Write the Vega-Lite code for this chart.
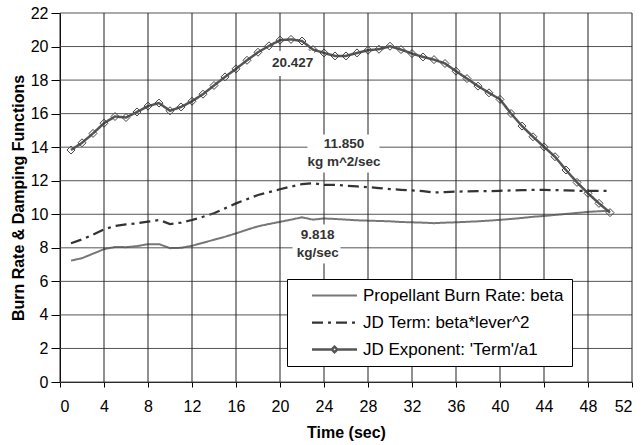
{
  "$schema": "https://vega.github.io/schema/vega-lite/v6.json",
  "width": 572,
  "height": 369,
  "autosize": {"type": "none"},
  "padding": {"left": 60, "top": 13, "right": 10, "bottom": 63},
  "background": "white",
  "config": {
    "view": {"stroke": null},
    "font": "Liberation Sans",
    "axis": {"labelFont": "Liberation Sans", "titleFont": "Liberation Sans", "labelColor": "black", "titleColor": "black", "domainColor": "black", "tickColor": "black", "labelOverlap": false, "grid": false, "labelFontSize": 16, "titleFontSize": 16, "titleFontWeight": "bold"},
    "axisX": {"tickSize": 5, "labelPadding": 11, "titlePadding": 10},
    "axisY": {"tickSize": 9, "labelPadding": 3, "titlePadding": 4}
  },
  "datasets": {
    "series": [
      {"t": 1, "beta": 7.24, "jd": 8.27, "exp": 13.83},
      {"t": 2, "beta": 7.38, "jd": 8.5, "exp": 14.26},
      {"t": 3, "beta": 7.65, "jd": 8.78, "exp": 14.82},
      {"t": 4, "beta": 7.92, "jd": 9.1, "exp": 15.43},
      {"t": 5, "beta": 8.05, "jd": 9.3, "exp": 15.83},
      {"t": 6, "beta": 8.04, "jd": 9.4, "exp": 15.77},
      {"t": 7, "beta": 8.1, "jd": 9.46, "exp": 16.1},
      {"t": 8, "beta": 8.22, "jd": 9.56, "exp": 16.45},
      {"t": 9, "beta": 8.22, "jd": 9.66, "exp": 16.63},
      {"t": 10, "beta": 7.98, "jd": 9.42, "exp": 16.17},
      {"t": 11, "beta": 8.0, "jd": 9.5, "exp": 16.4},
      {"t": 12, "beta": 8.12, "jd": 9.66, "exp": 16.74},
      {"t": 13, "beta": 8.3, "jd": 9.85, "exp": 17.16},
      {"t": 14, "beta": 8.48, "jd": 10.06, "exp": 17.68},
      {"t": 15, "beta": 8.66, "jd": 10.35, "exp": 18.19},
      {"t": 16, "beta": 8.86, "jd": 10.65, "exp": 18.67},
      {"t": 17, "beta": 9.08, "jd": 10.9, "exp": 19.18},
      {"t": 18, "beta": 9.28, "jd": 11.15, "exp": 19.66},
      {"t": 19, "beta": 9.42, "jd": 11.32, "exp": 20.04},
      {"t": 20, "beta": 9.55, "jd": 11.49, "exp": 20.38},
      {"t": 21, "beta": 9.68, "jd": 11.65, "exp": 20.427},
      {"t": 22, "beta": 9.818, "jd": 11.8, "exp": 20.33},
      {"t": 23, "beta": 9.68, "jd": 11.85, "exp": 19.82},
      {"t": 24, "beta": 9.75, "jd": 11.75, "exp": 19.62},
      {"t": 25, "beta": 9.72, "jd": 11.76, "exp": 19.44},
      {"t": 26, "beta": 9.68, "jd": 11.7, "exp": 19.44},
      {"t": 27, "beta": 9.64, "jd": 11.66, "exp": 19.62},
      {"t": 28, "beta": 9.62, "jd": 11.62, "exp": 19.78},
      {"t": 29, "beta": 9.6, "jd": 11.56, "exp": 19.84},
      {"t": 30, "beta": 9.58, "jd": 11.5, "exp": 20.02},
      {"t": 31, "beta": 9.54, "jd": 11.46, "exp": 19.82},
      {"t": 32, "beta": 9.52, "jd": 11.42, "exp": 19.58},
      {"t": 33, "beta": 9.5, "jd": 11.38, "exp": 19.38},
      {"t": 34, "beta": 9.47, "jd": 11.3, "exp": 19.22},
      {"t": 35, "beta": 9.5, "jd": 11.32, "exp": 18.99},
      {"t": 36, "beta": 9.52, "jd": 11.35, "exp": 18.53},
      {"t": 37, "beta": 9.55, "jd": 11.37, "exp": 18.09},
      {"t": 38, "beta": 9.58, "jd": 11.38, "exp": 17.64},
      {"t": 39, "beta": 9.62, "jd": 11.38, "exp": 17.24},
      {"t": 40, "beta": 9.67, "jd": 11.4, "exp": 16.85},
      {"t": 41, "beta": 9.72, "jd": 11.42, "exp": 16.01},
      {"t": 42, "beta": 9.78, "jd": 11.44, "exp": 15.26},
      {"t": 43, "beta": 9.85, "jd": 11.45, "exp": 14.62},
      {"t": 44, "beta": 9.9, "jd": 11.45, "exp": 14.02},
      {"t": 45, "beta": 9.96, "jd": 11.44, "exp": 13.43},
      {"t": 46, "beta": 10.02, "jd": 11.42, "exp": 12.64},
      {"t": 47, "beta": 10.08, "jd": 11.4, "exp": 11.9},
      {"t": 48, "beta": 10.14, "jd": 11.4, "exp": 11.25},
      {"t": 49, "beta": 10.18, "jd": 11.4, "exp": 10.65},
      {"t": 50, "beta": 10.21, "jd": 11.4, "exp": 10.1}
    ],
    "gridx": [{"t": 0}, {"t": 4}, {"t": 8}, {"t": 12}, {"t": 16}, {"t": 20}, {"t": 24}, {"t": 28}, {"t": 32}, {"t": 36}, {"t": 40}, {"t": 44}, {"t": 48}, {"t": 52}],
    "gridy": [{"v": 0}, {"v": 2}, {"v": 4}, {"v": 6}, {"v": 8}, {"v": 10}, {"v": 12}, {"v": 14}, {"v": 16}, {"v": 18}, {"v": 20}, {"v": 22}],
    "boxes": [
      {"id": "p", "t": 21.14, "v": 18.99},
      {"id": "j", "t": 25.77, "v": 13.62},
      {"id": "b", "t": 23.32, "v": 8.23}
    ],
    "notes": [
      {"t": 21.14, "v": 18.99, "label": "20.427"},
      {"t": 25.82, "v": 14.18, "label": "11.850"},
      {"t": 25.82, "v": 13.09, "label": "kg m^2/sec"},
      {"t": 23.43, "v": 8.77, "label": "9.818"},
      {"t": 23.43, "v": 7.67, "label": "kg/sec"}
    ]
  },
  "layer": [
    {
      "data": {"name": "series"},
      "transform": [{"fold": ["beta", "jd", "exp"], "as": ["series", "v"]}],
      "mark": {"type": "line"},
      "encoding": {
        "x": {"field": "t", "type": "quantitative", "scale": {"domain": [0, 52], "nice": false, "zero": false}, "axis": {"title": "Time (sec)", "values": [0,4,8,12,16,20,24,28,32,36,40,44,48,52]}},
        "y": {"field": "v", "type": "quantitative", "scale": {"domain": [0, 22], "nice": false, "zero": false}, "axis": {"title": "Burn Rate & Damping Functions", "values": [0,2,4,6,8,10,12,14,16,18,20,22]}},
        "color": {"field": "series", "type": "nominal",
          "scale": {"domain": ["beta", "jd", "exp"], "range": ["#777777", "#333333", "#555555"]},
          "legend": {"title": null, "orient": "none", "legendX": 227, "legendY": 266,
            "labelExpr": "(datum.value == 'beta' ? 'Propellant Burn Rate: beta' : datum.value == 'jd' ? 'JD Term: beta*lever^2' : \"JD Exponent: 'Term'/a1\") + '\u00a0\u00a0'",
            "labelFont": "Liberation Sans", "labelFontSize": 17, "labelColor": "black", "labelLimit": 0,
            "strokeColor": "black", "fillColor": "white", "padding": 8, "cornerRadius": 0,
            "symbolSize": 100, "symbolOffset": 31, "labelOffset": 20, "rowPadding": 9, "symbolStrokeWidth": 1.5,
            "encode": {"symbols": {"update": {"shape": {"signal": "datum.value === 'exp' ? 'M-4.5,0H-0.55L0,-0.55L0.55,0L0,0.55L-0.55,0ZM0.55,0H4.5' : 'M-4.5,0H4.5'"}}}}}},
        "strokeDash": {"field": "series", "type": "nominal",
          "scale": {"domain": ["beta", "jd", "exp"], "range": [[1, 0], [11, 5, 3, 5], [1, 0]]}},
        "strokeWidth": {"field": "series", "type": "nominal",
          "scale": {"domain": ["beta", "jd", "exp"], "range": [2, 2.5, 1.2]}}
      }
    },
    {
      "data": {"name": "series"},
      "mark": {"type": "point", "shape": "diamond", "filled": false, "stroke": "#444", "strokeWidth": 1, "size": 64, "opacity": 1},
      "encoding": {
        "x": {"field": "t", "type": "quantitative", "axis": {"title": "Time (sec)", "values": [0,4,8,12,16,20,24,28,32,36,40,44,48,52]}},
        "y": {"field": "exp", "type": "quantitative", "axis": {"title": "Burn Rate & Damping Functions", "values": [0,2,4,6,8,10,12,14,16,18,20,22]}}
      }
    },
    {
      "data": {"name": "gridy"},
      "mark": {"type": "rule", "color": "#555", "strokeWidth": 1},
      "encoding": {
        "y": {"field": "v", "type": "quantitative", "axis": {"title": "Burn Rate & Damping Functions", "values": [0,2,4,6,8,10,12,14,16,18,20,22]}},
        "x": {"datum": 0, "type": "quantitative", "axis": {"title": "Time (sec)", "values": [0,4,8,12,16,20,24,28,32,36,40,44,48,52]}},
        "x2": {"datum": 52}
      }
    },
    {
      "data": {"name": "gridx"},
      "mark": {"type": "rule", "color": "#222", "strokeWidth": 1},
      "encoding": {
        "x": {"field": "t", "type": "quantitative", "axis": {"title": "Time (sec)", "values": [0,4,8,12,16,20,24,28,32,36,40,44,48,52]}},
        "y": {"datum": 0, "type": "quantitative", "axis": {"title": "Burn Rate & Damping Functions", "values": [0,2,4,6,8,10,12,14,16,18,20,22]}},
        "y2": {"datum": 22}
      }
    },
    {
      "data": {"name": "boxes"},
      "mark": {"type": "point", "filled": true, "fill": "white", "stroke": "white", "strokeWidth": 1, "opacity": 1, "fillOpacity": 1, "size": 100},
      "encoding": {
        "x": {"field": "t", "type": "quantitative", "axis": {"title": "Time (sec)", "values": [0,4,8,12,16,20,24,28,32,36,40,44,48,52]}},
        "y": {"field": "v", "type": "quantitative", "axis": {"title": "Burn Rate & Damping Functions", "values": [0,2,4,6,8,10,12,14,16,18,20,22]}},
        "shape": {"field": "id", "type": "nominal", "legend": null,
          "scale": {"domain": ["p", "j", "b"], "range": ["M-4.2,-2.4H4.2V2.4H-4.2Z", "M-7.1,-3.7H7.1V3.7H-7.1Z", "M-4.7,-3.8H4.7V3.8H-4.7Z"]}}
      }
    },
    {
      "data": {"name": "notes"},
      "mark": {"type": "text", "fontSize": 13.5, "fontWeight": "bold", "color": "#333", "baseline": "middle", "align": "center"},
      "encoding": {
        "x": {"field": "t", "type": "quantitative", "axis": {"title": "Time (sec)", "values": [0,4,8,12,16,20,24,28,32,36,40,44,48,52]}},
        "y": {"field": "v", "type": "quantitative", "axis": {"title": "Burn Rate & Damping Functions", "values": [0,2,4,6,8,10,12,14,16,18,20,22]}},
        "text": {"field": "label", "type": "nominal"}
      }
    }
  ]
}
